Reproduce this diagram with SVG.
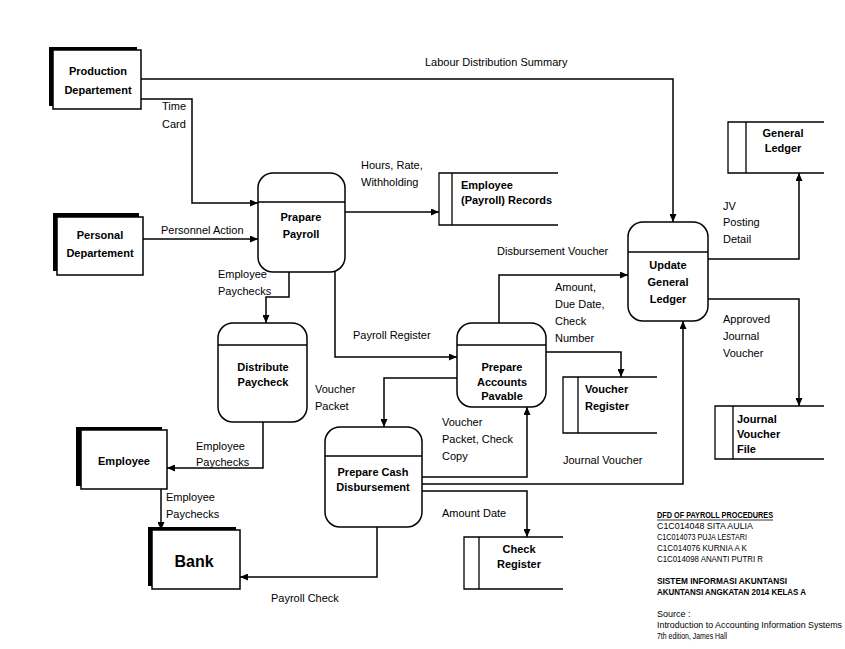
<svg xmlns="http://www.w3.org/2000/svg" width="845" height="649" viewBox="0 0 845 649">
<style>
text{font-family:"Liberation Sans",Arial,sans-serif;fill:#000}
.n{font-size:11px;font-weight:bold}
.c{font-size:11px}
.ctr{text-anchor:middle}
.lg{font-size:9px}
.lgb{font-size:9px;font-weight:bold}
.box{fill:#fff;stroke:#000;stroke-width:1.5}
.sh{fill:#000}
.proc{fill:#fff;stroke:#000;stroke-width:1.5}
.ln{fill:none;stroke:#000;stroke-width:1.3}
.cn{fill:none;stroke:#000;stroke-width:1.5}
</style>
<defs>
<marker id="ah" markerWidth="8" markerHeight="7" refX="8" refY="3.5" orient="auto" markerUnits="userSpaceOnUse">
<path d="M0,0 L8,3.5 L0,7 z" fill="#000"/>
</marker>
</defs>
<rect width="845" height="649" fill="#fff"/>

<g id="connectors">
<path class="cn" d="M141,79 H673 V222" marker-end="url(#ah)"/>
<path class="cn" d="M141,99 H192 V203 H258" marker-end="url(#ah)"/>
<path class="cn" d="M143,239 H258" marker-end="url(#ah)"/>
<path class="cn" d="M345,212 H439" marker-end="url(#ah)"/>
<path class="cn" d="M289,272 V297 H266 V323" marker-end="url(#ah)"/>
<path class="cn" d="M335,272 V357 H457" marker-end="url(#ah)"/>
<path class="cn" d="M499,323 V275 H628" marker-end="url(#ah)"/>
<path class="cn" d="M546,352 H621 V377" marker-end="url(#ah)"/>
<path class="cn" d="M708,259 H799 V173" marker-end="url(#ah)"/>
<path class="cn" d="M708,299 H799 V406" marker-end="url(#ah)"/>
<path class="cn" d="M457,378 H384 V427" marker-end="url(#ah)"/>
<path class="cn" d="M422,477 H527 V407" marker-end="url(#ah)"/>
<path class="cn" d="M422,484 H683 V321" marker-end="url(#ah)"/>
<path class="cn" d="M422,491 H527 V537" marker-end="url(#ah)"/>
<path class="cn" d="M377,527 V577 H240" marker-end="url(#ah)"/>
<path class="cn" d="M263,422 V468 H167" marker-end="url(#ah)"/>
<path class="cn" d="M161,489 V530" marker-end="url(#ah)"/>
</g>

<g id="connector-labels">
<text class="c" x="425" y="66">Labour Distribution Summary</text>
<text class="c" x="162" y="110">Time</text>
<text class="c" x="162" y="128">Card</text>
<text class="c" x="161" y="234">Personnel Action</text>
<text class="c" x="361" y="169">Hours, Rate,</text>
<text class="c" x="361" y="186">Withholding</text>
<text class="c" x="218" y="278">Employee</text>
<text class="c" x="218" y="295">Paychecks</text>
<text class="c" x="353" y="339">Payroll Register</text>
<text class="c" x="497" y="255">Disbursement Voucher</text>
<text class="c" x="555" y="291">Amount,</text>
<text class="c" x="555" y="308">Due Date,</text>
<text class="c" x="555" y="325">Check</text>
<text class="c" x="555" y="342">Number</text>
<text class="c" x="723" y="210">JV</text>
<text class="c" x="723" y="226">Posting</text>
<text class="c" x="723" y="243">Detail</text>
<text class="c" x="723" y="323">Approved</text>
<text class="c" x="723" y="340">Journal</text>
<text class="c" x="723" y="357">Voucher</text>
<text class="c" x="315" y="393">Voucher</text>
<text class="c" x="315" y="410">Packet</text>
<text class="c" x="442" y="426">Voucher</text>
<text class="c" x="442" y="443">Packet, Check</text>
<text class="c" x="442" y="460">Copy</text>
<text class="c" x="563" y="464">Journal Voucher</text>
<text class="c" x="442" y="517">Amount Date</text>
<text class="c" x="196" y="450">Employee</text>
<text class="c" x="196" y="466">Paychecks</text>
<text class="c" x="166" y="501">Employee</text>
<text class="c" x="166" y="518">Paychecks</text>
<text class="c" x="271" y="602">Payroll Check</text>
</g>

<g id="production-departement">
<rect class="sh" x="49" y="47" width="88" height="59"/>
<rect class="box" x="53" y="50" width="88" height="59"/>
<text class="n ctr" x="98" y="75">Production</text>
<text class="n ctr" x="98" y="94">Departement</text>
</g>

<g id="personal-departement">
<rect class="sh" x="53" y="213" width="86" height="58"/>
<rect class="box" x="57" y="217" width="86" height="58"/>
<text class="n ctr" x="100" y="239">Personal</text>
<text class="n ctr" x="100" y="257">Departement</text>
</g>

<g id="employee">
<rect class="sh" x="76" y="427" width="86" height="59"/>
<rect class="box" x="81" y="430" width="86" height="59"/>
<text class="n ctr" x="124" y="465">Employee</text>
</g>

<g id="bank">
<rect class="sh" x="148" y="527" width="88" height="59"/>
<rect class="box" x="152" y="530" width="88" height="59"/>
<text class="ctr" x="194" y="567" style="font-size:16px;font-weight:bold">Bank</text>
</g>

<g id="prepare-payroll">
<rect class="proc" x="258" y="173" width="87" height="99" rx="15"/>
<line class="ln" x1="258" y1="202" x2="345" y2="202"/>
<text class="n ctr" x="301" y="221">Prapare</text>
<text class="n ctr" x="301" y="238">Payroll</text>
</g>

<g id="distribute-paycheck">
<rect class="proc" x="218" y="323" width="89" height="99" rx="15"/>
<line class="ln" x1="218" y1="345" x2="307" y2="345"/>
<text class="n ctr" x="263" y="371">Distribute</text>
<text class="n ctr" x="263" y="386">Paycheck</text>
</g>

<g id="prepare-accounts-payable">
<rect class="proc" x="457" y="323" width="89" height="84" rx="15"/>
<line class="ln" x1="457" y1="345" x2="546" y2="345"/>
<text class="n ctr" x="502" y="371">Prepare</text>
<text class="n ctr" x="502" y="386">Accounts</text>
<text class="n ctr" x="502" y="400">Pavable</text>
</g>

<g id="prepare-cash-disbursement">
<rect class="proc" x="325" y="427" width="97" height="100" rx="15"/>
<line class="ln" x1="325" y1="456" x2="422" y2="456"/>
<text class="n ctr" x="373" y="476">Prepare Cash</text>
<text class="n ctr" x="373" y="491">Disbursement</text>
</g>

<g id="update-general-ledger">
<rect class="proc" x="628" y="222" width="80" height="99" rx="15"/>
<line class="ln" x1="628" y1="252" x2="708" y2="252"/>
<text class="n ctr" x="668" y="269">Update</text>
<text class="n ctr" x="668" y="286">General</text>
<text class="n ctr" x="668" y="303">Ledger</text>
</g>

<g id="employee-payroll-records">
<path class="ln" d="M558,173 H439 V225 H558 M452,173 V225"/>
<text class="n" x="461" y="189">Employee</text>
<text class="n" x="461" y="204">(Payroll) Records</text>
</g>

<g id="general-ledger">
<path class="ln" d="M824,122 H728 V173 H824 M746,122 V173"/>
<text class="n ctr" x="783" y="137">General</text>
<text class="n ctr" x="783" y="152">Ledger</text>
</g>

<g id="journal-voucher-file">
<path class="ln" d="M824,406 H715 V459 H824 M733,406 V459"/>
<text class="n" x="737" y="423">Journal</text>
<text class="n" x="737" y="438">Voucher</text>
<text class="n" x="737" y="453">File</text>
</g>

<g id="voucher-register">
<path class="ln" d="M657,377 H563 V433 H657 M578,377 V433"/>
<text class="n" x="585" y="393">Voucher</text>
<text class="n" x="585" y="410">Register</text>
</g>

<g id="check-register">
<path class="ln" d="M563,537 H464 V589 H563 M479,537 V589"/>
<text class="n ctr" x="519" y="553">Check</text>
<text class="n ctr" x="519" y="568">Register</text>
</g>

<g id="legend">
<text class="lgb" x="657" y="518" textLength="116" lengthAdjust="spacingAndGlyphs">DFD OF PAYROLL PROCEDURES</text>
<line x1="657" y1="520" x2="773" y2="520" stroke="#000" stroke-width="0.8"/>
<text class="lg" x="657" y="529" textLength="96" lengthAdjust="spacingAndGlyphs">C1C014048  SITA AULIA</text>
<text class="lg" x="657" y="540" textLength="90" lengthAdjust="spacingAndGlyphs">C1C014073  PUJA LESTARI</text>
<text class="lg" x="657" y="551" textLength="90" lengthAdjust="spacingAndGlyphs">C1C014076  KURNIA A K</text>
<text class="lg" x="657" y="562" textLength="106" lengthAdjust="spacingAndGlyphs">C1C014098  ANANTI PUTRI R</text>
<text class="lgb" x="657" y="584" textLength="130" lengthAdjust="spacingAndGlyphs">SISTEM INFORMASI AKUNTANSI</text>
<text class="lgb" x="657" y="595" textLength="149" lengthAdjust="spacingAndGlyphs">AKUNTANSI ANGKATAN 2014 KELAS A</text>
<text class="lg" x="657" y="617">Source :</text>
<text class="lg" x="657" y="628" textLength="185" lengthAdjust="spacingAndGlyphs">Introduction to Accounting Information Systems</text>
<text class="lg" x="657" y="639" textLength="70" lengthAdjust="spacingAndGlyphs">7th edition, James Hall</text>
</g>
</svg>
